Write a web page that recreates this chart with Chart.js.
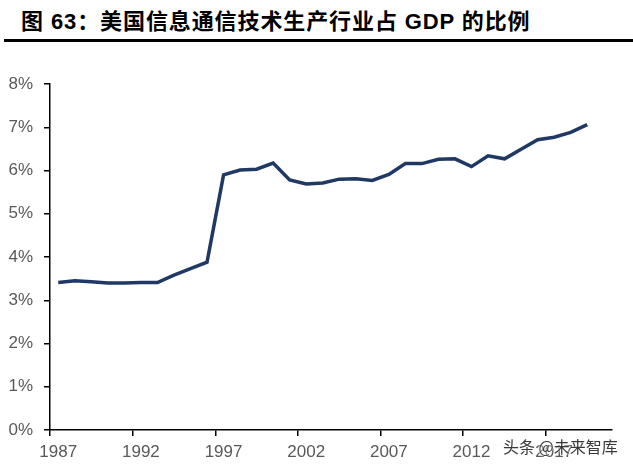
<!DOCTYPE html>
<html>
<head>
<meta charset="utf-8">
<script src="https://cdn.jsdelivr.net/npm/chart.js@4/dist/chart.umd.min.js"></script>
<style>
  html, body { margin: 0; padding: 0; background: #fff; }
  #wrap { position: relative; width: 633px; height: 467px; overflow: hidden; }
  #title {
    position: absolute; left: 21px; top: 3px; white-space: nowrap; letter-spacing: 0.9px;
    font: bold 22px "Liberation Sans", "Noto Sans CJK SC", sans-serif; color: #000;
  }
  #rule { position: absolute; left: 4px; top: 39px; width: 629px; height: 3px; background: #000; }
  #chartBox { position: absolute; left: 0; top: 45px; width: 633px; height: 422px; }
  #mark {
    position: absolute; left: 503px; top: 434px; white-space: nowrap;
    font: 16px "Noto Sans CJK SC", sans-serif; color: #3a3a3a;
    text-shadow: 0 0 2px #fff, 0 0 2px #fff;
  }
</style>
</head>
<body>
<div id="wrap">
  <div id="title">图 63：美国信息通信技术生产行业占 GDP 的比例</div>
  <div id="rule"></div>
  <div id="chartBox"><canvas id="ictChart"></canvas></div>
  <div id="mark">头条 @未来智库</div>
</div>
<script>
// ── Data ── //
const years = [
  '1987', '1988', '1989', '1990', '1991', '1992', '1993', '1994', '1995', '1996',
  '1997', '1998', '1999', '2000', '2001', '2002', '2003', '2004', '2005', '2006',
  '2007', '2008', '2009', '2010', '2011', '2012', '2013', '2014', '2015', '2016',
  '2017', '2018', '2019', '2020'
];
// ICT share of GDP, % (2020 empty)
const ictShare = [
  3.41, 3.45, 3.43, 3.40, 3.40, 3.41, 3.41, 3.58, 3.73, 3.88,
  5.90, 6.01, 6.03, 6.17, 5.78, 5.69, 5.71, 5.80, 5.81, 5.77,
  5.91, 6.16, 6.16, 6.26, 6.27, 6.09, 6.34, 6.27, 6.49, 6.71,
  6.77, 6.88, 7.06, null
];
const yTicks = [0, 1, 2, 3, 4, 5, 6, 7, 8];

const labelColor = '#595959';
const labelFont = { family: 'Liberation Sans', size: 17 };

new Chart(document.getElementById('ictChart'), {
  type: 'line',
  data: {
    labels: years,
    datasets: [{
      label: 'ICT / GDP',
      data: ictShare,
      borderColor: '#1f3864',
      borderWidth: 3.5,
      pointRadius: 0,
      tension: 0,
      fill: false,
      spanGaps: false,
    }],
  },
  options: {
    responsive: true,
    maintainAspectRatio: false,
    animation: false,
    layout: { padding: { top: 39, right: 21, left: 0, bottom: 0 } },
    plugins: { legend: { display: false }, tooltip: { enabled: false } },
    scales: {
      x: {
        offset: true,
        grid: {
          offset: true,
          drawOnChartArea: false,
          drawTicks: true,
          tickLength: 6,
          lineWidth: 1.5,
          color: (ctx) => (ctx.index % 5 === 0 ? '#000' : 'rgba(0,0,0,0)'),
        },
        border: { display: true, color: '#000', width: 1.5 },
        ticks: {
          autoSkip: false,
          maxRotation: 0,
          color: labelColor,
          font: labelFont,
          padding: 6,
          callback: (v, i) => (i % 5 === 0 ? years[i] : ''),
        },
        afterFit: (scale) => { scale.height = 37; },
      },
      y: {
        min: 0,
        max: 8,
        afterBuildTicks: (scale) => { scale.ticks = yTicks.map(v => ({ value: v })); },
        grid: {
          drawOnChartArea: false,
          drawTicks: true,
          tickLength: 6,
          lineWidth: 1.5,
          color: '#000',
        },
        border: { display: true, color: '#000', width: 1.5 },
        ticks: {
          color: labelColor,
          font: labelFont,
          padding: 11,
          callback: (v) => v + '%',
        },
        afterFit: (scale) => { scale.width = 50; },
      },
    },
  },
});
</script>
</body>
</html>
